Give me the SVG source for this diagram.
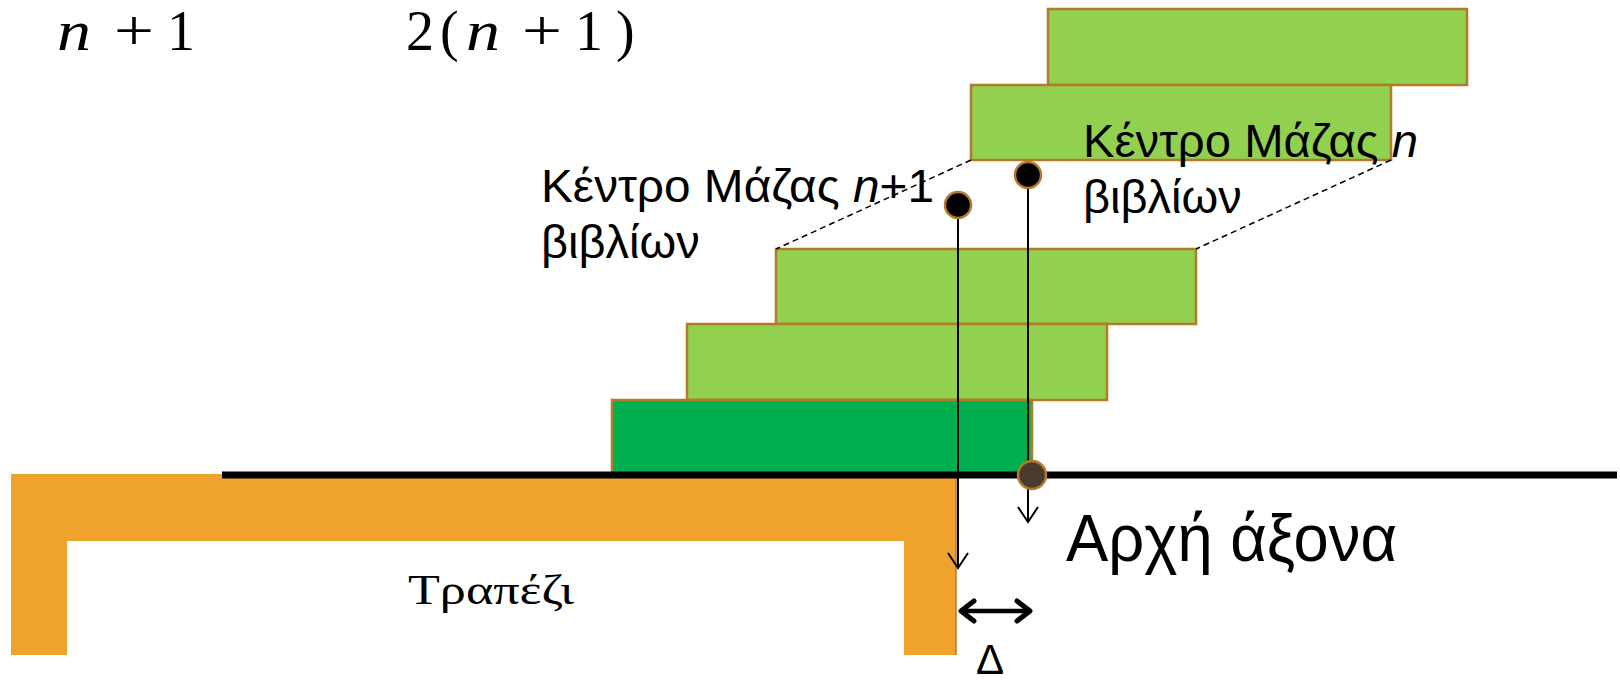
<svg xmlns="http://www.w3.org/2000/svg" width="1620" height="681" viewBox="0 0 1620 681">
<style>
.book{fill:#92D050;stroke:#B47A2A;stroke-width:2.5}
.book0{fill:#00B050;stroke:#B47A2A;stroke-width:2.5}
.lbl{font-family:"Liberation Sans",Arial,sans-serif;font-size:47px;fill:#000}
.math{font-family:"Liberation Serif","Times New Roman",serif;font-size:56px;fill:#000}
.dot{fill:#000;stroke:#B47A2A;stroke-width:2.5}
.thin{stroke:#000;stroke-width:2;fill:none}
.dash{stroke:#000;stroke-width:1.5;stroke-dasharray:6 4;fill:none}
</style>
<defs>
<marker id="v" markerWidth="24" markerHeight="24" refX="18" refY="12" orient="auto-start-reverse" markerUnits="userSpaceOnUse" viewBox="0 0 24 24">
<path d="M3,2 L18,12 L3,22" fill="none" stroke="#000" stroke-width="2"/>
</marker>
<marker id="vb" markerWidth="26" markerHeight="26" refX="21" refY="13" orient="auto-start-reverse" markerUnits="userSpaceOnUse" viewBox="0 0 26 26">
<path d="M8,3 L21,13 L8,23" fill="none" stroke="#000" stroke-width="5" stroke-linecap="round" stroke-linejoin="round"/>
</marker>
</defs>
<rect width="1620" height="681" fill="#fff"/>

<g id="formula1">
<text class="math" x="57" y="50" font-style="italic" textLength="34" lengthAdjust="spacingAndGlyphs">n</text>
<text class="math" x="114" y="50" textLength="40" lengthAdjust="spacingAndGlyphs">+</text>
<text class="math" x="167" y="50">1</text>
</g>
<g id="formula2">
<text class="math" x="406" y="50">2</text>
<text class="math" x="440" y="50">(</text>
<text class="math" x="466" y="50" font-style="italic" textLength="34" lengthAdjust="spacingAndGlyphs">n</text>
<text class="math" x="522" y="50" textLength="40" lengthAdjust="spacingAndGlyphs">+</text>
<text class="math" x="575" y="50">1</text>
<text class="math" x="616" y="50">)</text>
</g>

<g id="table">
<path d="M11,474 H956 V655 H904 V541 H67 V655 H11 Z" fill="#F0A22E"/>
<line x1="956" y1="474" x2="956" y2="655" stroke="#B47A2A" stroke-width="1.5"/>
<text x="408" y="604" font-family="'Liberation Serif','Times New Roman',serif" font-size="42" textLength="166" lengthAdjust="spacingAndGlyphs">Τραπέζι</text>
</g>

<g id="book1"><rect class="book" x="1048" y="9" width="419" height="76"/></g>
<g id="book2"><rect class="book" x="971" y="85" width="420" height="75"/></g>
<g id="book3"><rect class="book" x="776" y="249" width="420" height="75"/></g>
<g id="book4"><rect class="book" x="687" y="324" width="420" height="76"/></g>
<g id="book5"><rect class="book0" x="612" y="400" width="420" height="75"/></g>

<g id="axis">
<line x1="222" y1="475" x2="1617" y2="475" stroke="#000" stroke-width="7"/>
</g>

<g id="connectors">
<line class="dash" x1="971" y1="160" x2="776" y2="249"/>
<line class="dash" x1="1391" y1="160" x2="1196" y2="249"/>
<line class="thin" x1="958" y1="205" x2="958" y2="568" marker-end="url(#v)"/>
<line class="thin" x1="1028" y1="175" x2="1028" y2="522" marker-end="url(#v)"/>
<line x1="961" y1="611" x2="1030" y2="611" stroke="#000" stroke-width="4.5" marker-start="url(#vb)" marker-end="url(#vb)"/>
</g>

<g id="cm-n1">
<circle class="dot" cx="958" cy="205" r="13"/>
<text class="lbl" x="541" y="202" textLength="393" lengthAdjust="spacingAndGlyphs">Κέντρο Μάζας <tspan font-style="italic">n</tspan>+1</text>
<text class="lbl" x="541" y="258" font-size="46">βιβλίων</text>
</g>
<g id="cm-n">
<circle class="dot" cx="1028" cy="175" r="13"/>
<text class="lbl" x="1083" y="157" textLength="335" lengthAdjust="spacingAndGlyphs">Κέντρο Μάζας <tspan font-style="italic">n</tspan></text>
<text class="lbl" x="1083" y="213" font-size="46">βιβλίων</text>
</g>
<g id="origin">
<circle cx="1032" cy="475" r="14" fill="#4A3B30" stroke="#B47A2A" stroke-width="2.5"/>
<text x="1066" y="561" font-family="'Liberation Sans',Arial,sans-serif" font-size="66" textLength="331" lengthAdjust="spacingAndGlyphs">Αρχή άξονα</text>
</g>
<g id="delta">
<text x="976" y="674" font-family="'Liberation Sans',Arial,sans-serif" font-size="42">Δ</text>
</g>
</svg>
